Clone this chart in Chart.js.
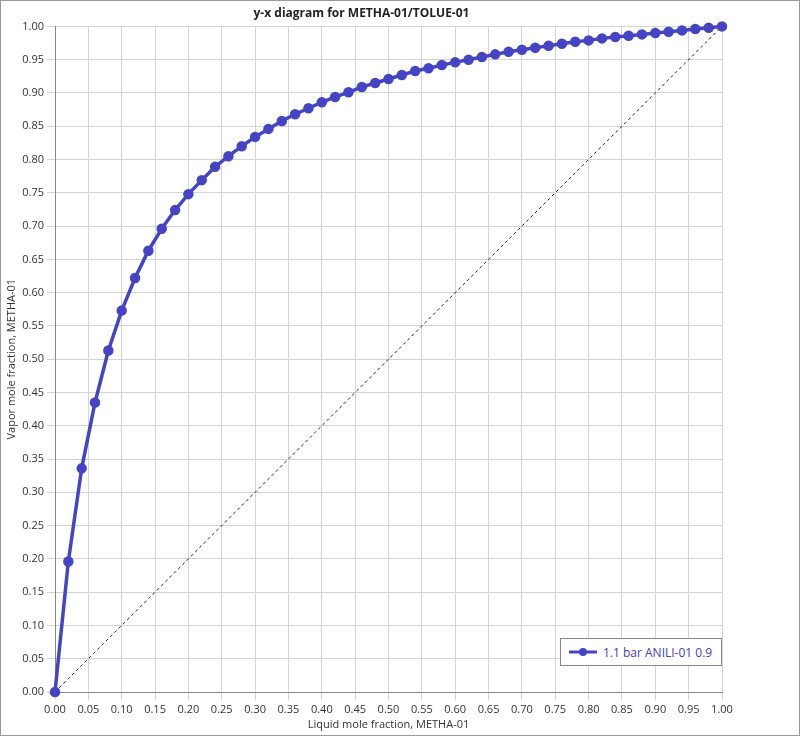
<!DOCTYPE html>
<html><head><meta charset="utf-8">
<script src="https://cdn.jsdelivr.net/npm/chart.js@4/dist/chart.umd.min.js"></script>
<style>
html,body{margin:0;padding:0;background:#fff;}
#wrap{position:relative;width:800px;height:736px;box-sizing:border-box;border:1px solid #9a9a9a;}
#legend{position:absolute;left:559px;top:637px;width:160px;height:26px;border:1px solid #888;background:#fff;font:12px "Open Sans",sans-serif;color:#4040c0;display:flex;align-items:center;}
#legend svg{margin:0 6px 0 8px;}
</style></head><body>
<div id="wrap"><canvas id="c" width="798" height="734"></canvas>
<div id="legend"><svg width="28" height="10"><line x1="0" y1="5" x2="28" y2="5" stroke="#4444c4" stroke-width="3"/><circle cx="14" cy="5" r="4" fill="#4444c4"/></svg>1.1 bar ANILI-01 0.9</div></div>
<script>
const xValues=[0,0.02,0.04,0.06,0.08,0.10,0.12,0.14,0.16,0.18,0.20,0.22,0.24,0.26,0.28,0.30,0.32,0.34,0.36,0.38,0.40,0.42,0.44,0.46,0.48,0.50,0.52,0.54,0.56,0.58,0.60,0.62,0.64,0.66,0.68,0.70,0.72,0.74,0.76,0.78,0.80,0.82,0.84,0.86,0.88,0.90,0.92,0.94,0.96,0.98,1.0];
const yValues=[0,0.196,0.336,0.435,0.513,0.573,0.622,0.663,0.696,0.724,0.748,0.769,0.789,0.805,0.820,0.834,0.846,0.858,0.868,0.877,0.886,0.894,0.901,0.909,0.915,0.921,0.927,0.933,0.937,0.942,0.946,0.950,0.954,0.958,0.962,0.965,0.968,0.971,0.974,0.977,0.979,0.982,0.984,0.986,0.988,0.990,0.992,0.994,0.996,0.998,1.0];
const diagX=[0,1], diagY=[0,1];
const seriesLabel='1.1 bar ANILI-01 0.9';
const F='"Open Sans", sans-serif';
new Chart(document.getElementById('c'),{
 type:'scatter',
 data:{datasets:[
  {label:seriesLabel,data:xValues.map((x,i)=>({x,y:yValues[i]})),showLine:true,clip:false,borderColor:'#4444c4',backgroundColor:'#4444c4',borderWidth:3.5,pointRadius:3.5,pointHoverRadius:3.5,order:1},
  {label:'diag',data:diagX.map((x,i)=>({x,y:diagY[i]})),showLine:true,borderColor:'#222',borderWidth:1,borderDash:[3,3],pointRadius:0,order:2}
 ]},
 options:{responsive:false,animation:false,
  layout:{padding:{left:0,right:77,top:0,bottom:0}},
  plugins:{legend:{display:false},tooltip:{enabled:false},
   title:{display:true,text:'y-x diagram for METHA-01/TOLUE-01',color:'#222',font:{family:F,size:12,weight:'bold'},padding:{top:5,bottom:6}}},
  scales:{
   x:{type:'linear',min:0,max:1,afterFit:s=>{s.height=43;},
     ticks:{stepSize:0.05,color:'#333',font:{family:F,size:11},callback:v=>v.toFixed(2),maxRotation:0,autoSkip:false},
     grid:{color:'#d4d4d4'},border:{color:'#888'},
     title:{display:true,text:'Liquid mole fraction, METHA-01',color:'#333',font:{family:F,size:11},padding:{top:0}}},
   y:{type:'linear',min:0,max:1,afterFit:s=>{s.width=54;},
     ticks:{stepSize:0.05,color:'#333',font:{family:F,size:11},callback:v=>v.toFixed(2),autoSkip:false},
     grid:{color:'#d4d4d4'},border:{color:'#888'},
     title:{display:true,text:'Vapor mole fraction, METHA-01',color:'#333',font:{family:F,size:11},padding:{bottom:0}}}
  }}
});
</script></body></html>
